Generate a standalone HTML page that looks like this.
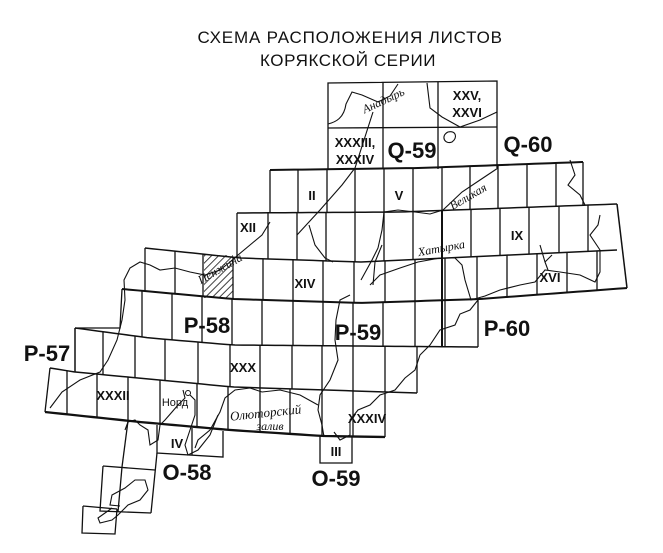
<!DOCTYPE html>
<html><head><meta charset="utf-8"><style>
html,body{margin:0;padding:0;background:#fff;}
svg{display:block}
text{font-family:"Liberation Sans","DejaVu Sans",sans-serif;fill:#111}
.r{font-family:"Liberation Sans Narrow","Liberation Sans",sans-serif;font-weight:bold;font-size:13px;text-anchor:middle}
.b{font-family:"Liberation Sans Narrow","Liberation Sans",sans-serif;font-weight:bold;font-size:22px;text-anchor:middle}
.i{font-family:"Liberation Serif",serif;font-style:italic;font-size:12px;text-anchor:middle}
</style></head><body>
<svg id="s" width="663" height="553" viewBox="0 0 663 553" xmlns="http://www.w3.org/2000/svg">
<defs><pattern id="h" width="5" height="5" patternUnits="userSpaceOnUse" patternTransform="rotate(45)"><line x1="0" y1="0" x2="0" y2="5" stroke="#111" stroke-width="1.6"/></pattern></defs>
<text x="350" y="43" text-anchor="middle" style="font-size:17px;letter-spacing:0.5px" textLength="305">СХЕМА РАСПОЛОЖЕНИЯ ЛИСТОВ</text>
<text x="348" y="66" text-anchor="middle" style="font-size:17px;letter-spacing:0.5px" textLength="176">КОРЯКСКОЙ СЕРИИ</text>
<rect x="204" y="255" width="29" height="43" fill="url(#h)"/>
<g id="grid" fill="none" stroke="#111" stroke-width="1.3"></g>
<g fill="none" stroke="#111" stroke-width="1.1">
<path d="M328,124 C336,122 344,118 346,104 L352,92 L362,95 L378,102 L390,96 L398,84"/>
<path d="M373,112 L355,168 L342,185 L320,210 L297,235"/>
<path d="M309,225 L315,245 L325,258 L333,262"/>
<path d="M427,83 L430,108 L442,117 L460,127 L480,120 L497,112"/>
<path d="M448,132 C440,136 445,145 452,142 C458,138 456,130 448,132 Z"/>
<path d="M498,168 L480,180 L462,192 L443,210 L430,214 L415,212 L398,210 L384,212 L382,230 L378,248 L372,260 L361,280"/>
<path d="M382,245 L375,262 L373,285"/>
<path d="M370,285 L380,275 L400,268 L418,262 L440,258 L455,258 L462,265 L465,280 L471,300 L485,296 L500,290 L520,285 L535,282 L545,270 L560,272 L580,275 L595,282 L600,272 L600,250 L590,235 L598,225 L600,215"/>
<path d="M540,245 L545,262 L552,255 L545,262 L548,270"/>
<path d="M570,160 L575,175 L568,185 L580,195 L585,205"/>
<path d="M478,300 L470,310 L460,314 L455,325 L440,330 L430,345 L420,355 L415,370 L405,378 L395,390 L380,395 L370,405 L358,410 L350,420 L350,435 L340,440 L334,432"/>
<path d="M350,295 L340,300 L336,320 L335,340 L338,360 L330,380 L320,395 L318,410 L322,425 L324,437"/>
<path d="M318,405 L300,395 L280,390 L262,392 L250,388 L235,390 L225,398 L220,412 L210,430 L198,440 L195,448"/>
<path d="M270,222 L262,235 L250,245 L238,255 L230,262 L220,270 L205,275 L190,272 L175,268 L160,270 L150,265 L140,262 L130,268 L124,280 L125,300 L122,320 L117,340 L108,360 L100,372 L80,380 L62,392 L50,408"/>
<path d="M183,390 L185,398 L178,405 L172,412 L165,420 L160,425 L158,440 L150,445 L148,430 L140,425 L135,420 L128,422 L125,430"/>
<path d="M190,395 L195,400 L195,415 L190,430 L185,445 L188,455 L198,450 L210,435 L218,415"/>
<path d="M120,506 L110,505 L112,495 L125,488 L135,480 L145,480 L148,490 L140,500 L128,505 L118,515 L112,520 L100,523 L98,518 L112,508"/>
</g>
<circle cx="188" cy="393" r="2.5" fill="none" stroke="#111"/>
<text class="r" x="467" y="100">XXV,</text>
<text class="r" x="467" y="117">XXVI</text>
<text class="r" x="355" y="147">XXXIII,</text>
<text class="r" x="355" y="164">XXXIV</text>
<text class="b" x="412" y="158">Q-59</text>
<text class="b" x="528" y="152">Q-60</text>
<text class="r" x="312" y="200">II</text>
<text class="r" x="399" y="200">V</text>
<text class="r" x="248" y="232">XII</text>
<text class="r" x="517" y="240">IX</text>
<text class="r" x="550" y="282">XVI</text>
<text class="r" x="305" y="288">XIV</text>
<text class="b" x="207" y="333">P-58</text>
<text class="b" x="358" y="340">P-59</text>
<text class="b" x="507" y="336">P-60</text>
<text class="b" x="47" y="361">P-57</text>
<text class="r" x="243" y="372">XXX</text>
<text class="r" x="113" y="400">XXXII</text>
<text class="r" x="367" y="423">XXXIV</text>
<text class="r" x="177" y="448">IV</text>
<text class="r" x="336" y="456">III</text>
<text class="b" x="187" y="480">O-58</text>
<text class="b" x="336" y="486">O-59</text>
<text x="175" y="406" style="font-size:11px" text-anchor="middle">Норд</text>
<text class="i" transform="translate(385,104) rotate(-25)">Анадырь</text>
<text class="i" transform="translate(470,200) rotate(-30)">Великая</text>
<text class="i" transform="translate(442,252) rotate(-10)">Хатырка</text>
<text class="i" transform="translate(222,272) rotate(-30)">Пенжина</text>
<text class="i" style="font-size:13px" transform="translate(266,417) rotate(-6)">Олюторский</text>
<text class="i" x="270" y="430">залив</text>
</svg>
<script>
(function(){
var g=document.getElementById('grid');
function ln(a,w){var p=document.createElementNS('http://www.w3.org/2000/svg','polyline');p.setAttribute('points',a.map(function(q){return q.join(',')}).join(' '));if(w)p.setAttribute('stroke-width',w);g.appendChild(p);}
function f(pts){return function(x){for(var i=0;i<pts.length-1;i++){if(x<=pts[i+1][0]||i==pts.length-2){var a=pts[i],b=pts[i+1];return a[1]+(b[1]-a[1])*(x-a[0])/(b[0]-a[0]);}}}}
function seg(pts,x0,x1,w){var a=[];for(var x=x0;x<x1;x+=8)a.push([x,f(pts)(x)]);a.push([x1,f(pts)(x1)]);ln(a,w);}
var L1=[[270,170],[420,168],[583,162]];
var L2=[[237,213],[400,212],[617,204]];
var L3=[[145,248],[240,258],[360,262],[617,250]];
var L4=[[122,289],[233,299],[360,303],[480,299],[627,288]];
var L5=[[75,328],[150,338],[233,345],[478,347]];
var L6=[[50,368],[75,372],[233,387],[417,393]];
var L7=[[45,412],[140,422],[230,430],[323,436],[385,437]];
seg(L1,270,583,2);seg(L2,237,617,1.5);seg(L3,145,617,1.5);seg(L4,122,627,2);seg(L5,75,478,1.5);seg(L6,50,417,1.5);seg(L7,45,385,2.3);
function vs(xs,T,B){xs.forEach(function(x){ln([[x,f(T)(x)],[x,f(B)(x)]]);});}
vs([270,298,327,355,384,413,442,470,498,527,556,583],L1,L2);
vs([237,268,297,326,355,384,413,442,471,500,529,559,588],L2,L3);
vs([145,175,203,233,263,293,323,354,385,415,445,477,507,537,567,597],L3,L4);
vs([142,172,202,232,262,293,323,353,383,415,445],L4,L5);
vs([75,103,135,165,198,230,260,292,322,353,385],L5,L6);
vs([67,97,128,160,197,228,260,290,322,353],L6,L7);
ln([[442,f(L2)(442)],[442,347]],2);
ln([[617,204],[627,288]],1.5);
ln([[122,289],[120,328],[75,328]]);
ln([[478,f(L4)(478)],[478,347]]);
ln([[75,328],[75,372]]);
ln([[417,347],[417,393]]);
ln([[50,368],[45,412]]);
ln([[385,393],[385,437]]);
ln([[328,170],[328,83],[497,81],[497,168]]);
ln([[328,128],[497,127]]);
ln([[383,82],[383,169]]);ln([[438,82],[438,169]]);
ln([[157,425],[157,453],[223,457],[223,431]]);
ln([[192,428],[192,455]]);
ln([[320,436],[320,463],[352,463],[352,437]]);
ln([[128,421],[122,467]]);
ln([[157,453],[151,513]]);
ln([[103,466],[155,470]]);ln([[103,466],[100,511],[151,513]]);ln([[122,467],[118,512]]);
ln([[83,506],[117,509]]);ln([[83,506],[82,533],[115,534],[117,509]]);
})();
</script>
</body></html>
